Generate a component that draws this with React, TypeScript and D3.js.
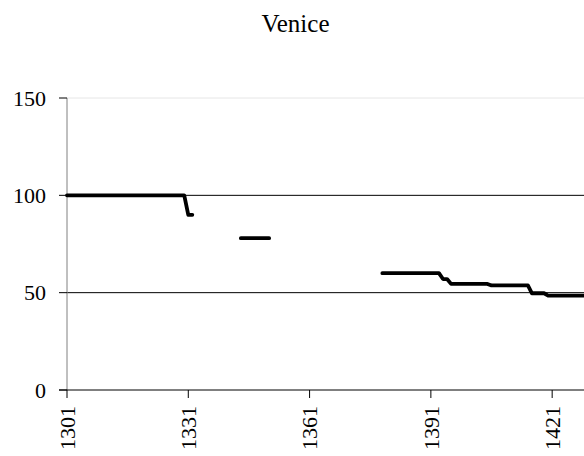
import React from "react";
import * as d3 from "d3";

const title = "Venice";
const firstYear = 1301;
const lastYear = 1429;
const values: (number | null)[] = [
  // 1301-1330
  100, 100, 100, 100, 100, 100, 100, 100, 100, 100,
  100, 100, 100, 100, 100, 100, 100, 100, 100, 100,
  100, 100, 100, 100, 100, 100, 100, 100, 100, 100,
  // 1331-1332
  90, 90,
  // 1333-1343
  null, null, null, null, null, null, null, null, null, null, null,
  // 1344-1351
  78, 78, 78, 78, 78, 78, 78, 78,
  // 1352-1378
  null, null, null, null, null, null, null, null, null, null,
  null, null, null, null, null, null, null, null, null, null,
  null, null, null, null, null, null, null,
  // 1379-1393
  60, 60, 60, 60, 60, 60, 60, 60, 60, 60, 60, 60, 60, 60, 60,
  // 1394-1395
  57, 57,
  // 1396-1405
  54.5, 54.5, 54.5, 54.5, 54.5, 54.5, 54.5, 54.5, 54.5, 54.5,
  // 1406-1415
  53.7, 53.7, 53.7, 53.7, 53.7, 53.7, 53.7, 53.7, 53.7, 53.7,
  // 1416-1419
  49.7, 49.7, 49.7, 49.7,
  // 1420-1429
  48.5, 48.5, 48.5, 48.5, 48.5, 48.5, 48.5, 48.5, 48.5, 48.5,
];
const xTickLabels = [1301, 1331, 1361, 1391, 1421];
const yTickValues = [0, 50, 100, 150];
const gridValues = [50, 100];

const W = 584;
const H = 456;
const FONT = "'Liberation Serif', 'Times New Roman', serif";
const textStyle = { fontFamily: FONT };

export default function App() {
  const x = d3.scaleLinear().domain([firstYear, lastYear]).range([67, 584.5]);
  const y = d3.scaleLinear().domain([0, 150]).range([390, 98]);
  const data = values.map((v, i) => ({ year: firstYear + i, v }));
  const line = d3
    .line<{ year: number; v: number | null }>()
    .defined((d) => d.v !== null)
    .x((d) => x(d.year))
    .y((d) => y(d.v as number));
  const x0 = x(firstYear);

  return (
    <svg
      width={W}
      height={H}
      style={{ position: "absolute", left: 0, top: 0, background: "#fff" }}
    >
      <rect x={0} y={0} width={W} height={H} fill="#fff" />
      <text x={295.5} y={32} textAnchor="middle" fontSize={25} fill="#000" style={textStyle}>
        {title}
      </text>
      <line x1={x0} x2={W} y1={y(150)} y2={y(150)} stroke="#e6e6e6" strokeWidth={1} />
      {gridValues.map((g) => (
        <line key={g} x1={x0} x2={W} y1={y(g)} y2={y(g)} stroke="#000" strokeWidth={1} />
      ))}
      <line x1={x0} x2={x0} y1={y(150)} y2={y(0)} stroke="#808080" strokeWidth={1} />
      {yTickValues.map((t) => (
        <g key={t}>
          <line x1={x0 - 8} x2={x0} y1={y(t)} y2={y(t)} stroke="#000" strokeWidth={1} />
          <text
            x={46}
            y={y(t)}
            dy="0.35em"
            textAnchor="end"
            fontSize={22}
            fill="#000"
            style={textStyle}
          >
            {t}
          </text>
        </g>
      ))}
      <line x1={x0 - 8} x2={W} y1={y(0)} y2={y(0)} stroke="#000" strokeWidth={1} />
      {xTickLabels.map((t) => (
        <g key={t} transform={`translate(${x(t)},${y(0)})`}>
          <line x1={0} x2={0} y1={0} y2={8} stroke="#000" strokeWidth={1} />
          <text
            transform="translate(0,16) rotate(-90)"
            textAnchor="end"
            dy="0.35em"
            fontSize={22}
            fill="#000"
            style={textStyle}
          >
            {t}
          </text>
        </g>
      ))}
      <path
        d={line(data) || ""}
        fill="none"
        stroke="#000"
        strokeWidth={3.8}
        strokeLinejoin="round"
        strokeLinecap="round"
      />
    </svg>
  );
}
